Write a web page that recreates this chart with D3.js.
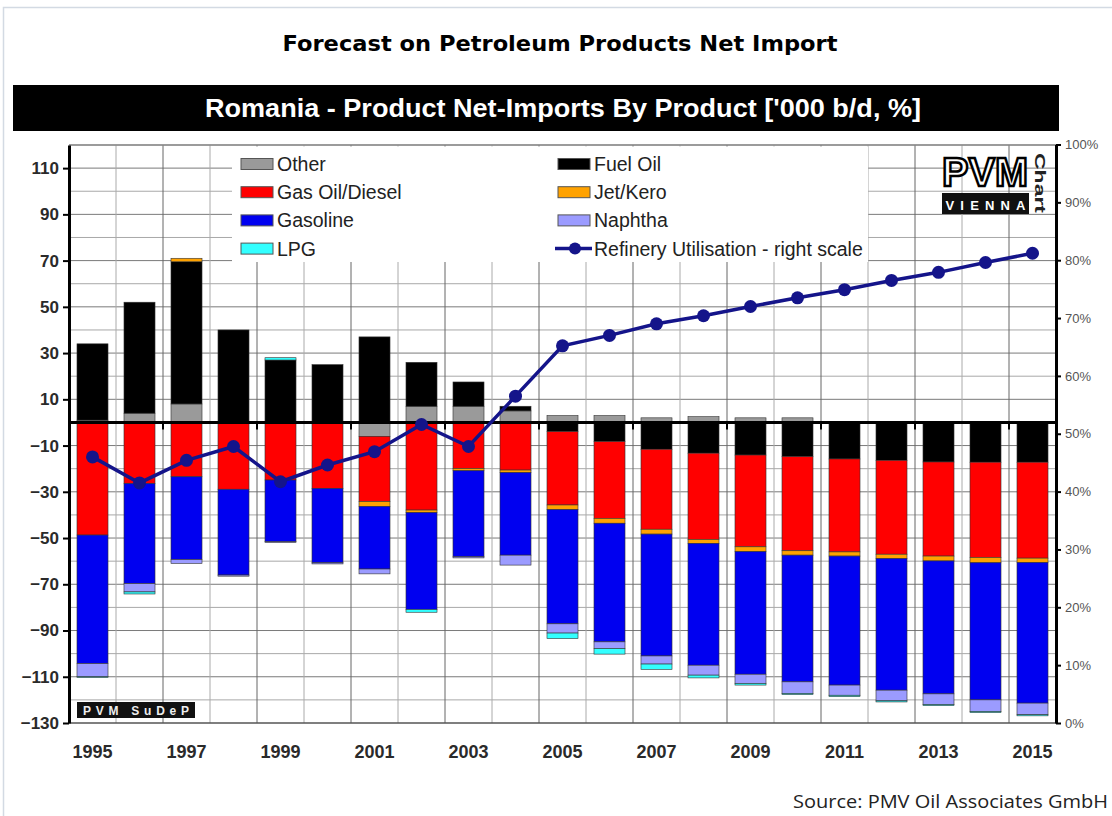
<!DOCTYPE html>
<html>
<head>
<meta charset="utf-8">
<script src="https://cdn.jsdelivr.net/npm/d3@7"></script>
<style>
  body { margin: 0; background: #fff; }
  svg { display: block; }
</style>
</head>
<body>
<script>
// data ('000 b/d, positive = net import, negative = net export)
var years = d3.range(1995, 2016);
var other    = [1, 4, 8, 0, 0, 0, -6, 7, 7, 5, 3, 3, 2, 2.5, 2, 2, 0, 0, 0, 0, 0];
var fuelOil  = [33, 48, 61.5, 40, 27, 25, 37, 19, 10.5, 2, -4, -8.3, -11.6, -13.3, -14.1, -14.8, -15.8, -16.4, -17.1, -17.2, -17.2];
var gasOil   = [-48.7, -26.4, -23.5, -28.9, -24.9, -28.5, -28.2, -37.9, -19.9, -20.6, -31.7, -33.2, -34.6, -37.3, -39.7, -40.7, -40.2, -40.6, -40.7, -41.2, -41.5];
var jetKero  = [0, 0, 1.5, 0, 0, 0, -2.1, -1.1, -1, -1.1, -2, -2.1, -2.1, -1.7, -2.1, -1.9, -1.8, -1.9, -2.1, -2.3, -1.9];
var gasoline = [-55.6, -43.3, -35.8, -37.1, -26.7, -32.2, -27.1, -41.9, -37.2, -35.7, -49.4, -51.3, -52.7, -52.7, -53, -54.8, -55.8, -56.9, -57.5, -59.3, -60.8];
var naphtha  = [-5.7, -3.6, -1.7, -0.5, -0.3, -0.5, -2.1, 0, -0.5, -4.3, -4, -2.9, -3.5, -4.3, -4, -5, -4.4, -4.6, -4.6, -5, -5];
var lpg      = [-0.3, -0.9, 0, 0, 1, 0, 0, -1.2, 0, 0, -2.4, -2.4, -2.3, -1.2, -0.7, -0.5, -0.6, -0.5, -0.5, -0.5, -0.5];
// refinery utilisation, % (right scale)
var utilisation = [46.0, 41.5, 45.4, 47.8, 41.7, 44.6, 46.9, 51.6, 47.8, 56.5, 65.2, 67.0, 69.0, 70.4, 72.0, 73.5, 74.9, 76.5, 77.9, 79.6, 81.2];

var products = ["Other", "Fuel Oil", "Gas Oil/Diesel", "Jet/Kero", "Gasoline", "Naphtha", "LPG"];
var productColors = ["#9a9a9a", "#000000", "#ff0000", "#ffa200", "#0000f0", "#9b9bff", "#33ffff"];
var series = [other, fuelOil, gasOil, jetKero, gasoline, naphtha, lpg];

var leftTicks = [110, 90, 70, 50, 30, 10, -10, -30, -50, -70, -90, -110, -130];
var rightTicks = d3.range(0, 101, 10);
var yearLabels = years.filter(function(d) { return d % 2 === 1; });

var table = years.map(function(yr, i) {
  var row = { year: yr };
  products.forEach(function(p, j) { row[p] = series[j][i]; });
  return row;
});

var svg = d3.select("body").append("svg")
  .attr("width", 1112)
  .attr("height", 816);

svg.append("rect").attr("width", 1112).attr("height", 816).attr("fill", "#fff");

// faint page frame
svg.append("path")
  .attr("d", "M3.5,816 V7.5 H1112")
  .attr("fill", "none")
  .attr("stroke", "#d3dae3")
  .attr("stroke-width", 1.5);

// page title
svg.append("text")
  .attr("x", 560)
  .attr("y", 51)
  .attr("text-anchor", "middle")
  .attr("textLength", 555)
  .attr("lengthAdjust", "spacingAndGlyphs")
  .style("font-family", "'DejaVu Sans', sans-serif")
  .style("font-weight", "bold")
  .style("font-size", "22px")
  .attr("fill", "#000")
  .text("Forecast on Petroleum Products Net Import");

// black title bar
svg.append("rect")
  .attr("x", 13).attr("y", 85)
  .attr("width", 1046).attr("height", 46)
  .attr("fill", "#000");

svg.append("text")
  .attr("x", 563)
  .attr("y", 117)
  .attr("text-anchor", "middle")
  .attr("textLength", 716)
  .attr("lengthAdjust", "spacingAndGlyphs")
  .style("font-family", "'Liberation Sans', Arial, sans-serif")
  .style("font-weight", "bold")
  .style("font-size", "26px")
  .attr("fill", "#fff")
  .text("Romania - Product Net-Imports By Product ['000 b/d, %]");

// scales
var x = d3.scaleBand()
  .domain(years)
  .range([69, 1056])
  .paddingInner(0.34)
  .paddingOuter(0.17);

var y = d3.scaleLinear().domain([-130, 120]).range([723, 145]);
var yR = d3.scaleLinear().domain([0, 100]).range([723, 144.5]);

var step = x.step();
var x0 = 69, x1 = 1056;

// gridlines
var grid = svg.append("g");
d3.range(-120, 121, 10).forEach(function(v) {
  if (v === 0) return;
  grid.append("line")
    .attr("x1", x0).attr("x2", x1)
    .attr("y1", y(v)).attr("y2", y(v))
    .attr("stroke", (v - 10) % 20 === 0 ? "#7a7a7a" : "#a8a8a8")
    .attr("stroke-width", 1);
});
d3.range(1, 21).forEach(function(k) {
  var xx = x0 + k * step;
  grid.append("line")
    .attr("x1", xx).attr("x2", xx)
    .attr("y1", 145).attr("y2", 723)
    .attr("stroke", k % 2 === 0 ? "#666" : "#aaa")
    .attr("stroke-width", 1);
});

// plot top border
svg.append("line")
  .attr("x1", x0).attr("x2", x1)
  .attr("y1", 145).attr("y2", 145)
  .attr("stroke", "#888").attr("stroke-width", 1.5);

// legend background blanks the grid
svg.append("rect")
  .attr("x", 232).attr("y", 146.5)
  .attr("width", 636).attr("height", 115.5)
  .attr("fill", "#fff");

// stacked bars
var stack = d3.stack()
  .keys(products)
  .offset(d3.stackOffsetDiverging);
var layers = stack(table);

svg.append("g").selectAll("g")
  .data(layers)
  .enter().append("g")
  .attr("fill", function(d, i) { return productColors[i]; })
  .selectAll("rect")
  .data(function(d) { return d.filter(function(s) { return s[1] !== s[0]; }); })
  .enter().append("rect")
  .attr("x", function(d) { return x(d.data.year); })
  .attr("y", function(d) { return y(Math.max(d[0], d[1])); })
  .attr("width", x.bandwidth())
  .attr("height", function(d) { return Math.abs(y(d[0]) - y(d[1])); })
  .attr("stroke", "#333")
  .attr("stroke-width", 0.6);

// zero line with small ticks
svg.append("line")
  .attr("x1", x0).attr("x2", x1)
  .attr("y1", y(0)).attr("y2", y(0))
  .attr("stroke", "#000").attr("stroke-width", 3);
d3.range(2, 21, 2).forEach(function(k) {
  svg.append("line")
    .attr("x1", x0 + k * step).attr("x2", x0 + k * step)
    .attr("y1", y(0)).attr("y2", y(0) + 7)
    .attr("stroke", "#000").attr("stroke-width", 2);
});

// bottom line
svg.append("line")
  .attr("x1", x0).attr("x2", x1)
  .attr("y1", 723).attr("y2", 723)
  .attr("stroke", "#555").attr("stroke-width", 1.5);

// left axis
var yAxis = d3.axisLeft(y).tickValues(leftTicks).tickSize(6).tickSizeOuter(0).tickPadding(4);
var gLeft = svg.append("g")
  .attr("transform", "translate(" + x0 + ",0)")
  .call(yAxis);
gLeft.select(".domain").attr("stroke", "#000").attr("stroke-width", 3);
gLeft.selectAll(".tick line").attr("stroke", "#000").attr("stroke-width", 2);
gLeft.selectAll("text")
  .style("font-family", "'Liberation Sans', Arial, sans-serif")
  .style("font-weight", "bold")
  .style("font-size", "17px")
  .attr("fill", "#2a2a2a");

// right axis
var yAxisR = d3.axisRight(yR).tickValues(rightTicks).tickSize(5).tickSizeOuter(0).tickPadding(4)
  .tickFormat(function(d) { return d + "%"; });
var gRight = svg.append("g")
  .attr("transform", "translate(" + x1 + ",0)")
  .call(yAxisR);
gRight.select(".domain").attr("stroke", "#000").attr("stroke-width", 3);
gRight.selectAll(".tick line").attr("stroke", "#000").attr("stroke-width", 2);
gRight.selectAll("text")
  .style("font-family", "'Liberation Sans', Arial, sans-serif")
  .style("font-size", "13px")
  .attr("fill", "#555");

// year labels
var xAxis = d3.axisBottom(x).tickValues(yearLabels).tickSize(0).tickPadding(22);
var gBottom = svg.append("g")
  .attr("transform", "translate(0,723)")
  .call(xAxis);
gBottom.select(".domain").remove();
gBottom.selectAll("text")
  .style("font-family", "'Liberation Sans', Arial, sans-serif")
  .style("font-weight", "bold")
  .style("font-size", "18px")
  .attr("fill", "#2a2a2a");

// refinery utilisation line
var lineColor = "#14148a";
var line = d3.line()
  .x(function(d, i) { return x(years[i]) + x.bandwidth() / 2; })
  .y(function(d) { return yR(d); });

svg.append("path")
  .datum(utilisation)
  .attr("fill", "none")
  .attr("stroke", lineColor)
  .attr("stroke-width", 3.5)
  .attr("d", line);

svg.append("g").selectAll("circle")
  .data(utilisation)
  .enter().append("circle")
  .attr("cx", function(d, i) { return x(years[i]) + x.bandwidth() / 2; })
  .attr("cy", function(d) { return yR(d); })
  .attr("r", 6.5)
  .attr("fill", lineColor);

// legend
var legendItems = [
  { label: "Other", col: 0, row: 0, color: productColors[0] },
  { label: "Gas Oil/Diesel", col: 0, row: 1, color: productColors[2] },
  { label: "Gasoline", col: 0, row: 2, color: productColors[4] },
  { label: "LPG", col: 0, row: 3, color: productColors[6] },
  { label: "Fuel Oil", col: 1, row: 0, color: productColors[1] },
  { label: "Jet/Kero", col: 1, row: 1, color: productColors[3] },
  { label: "Naphtha", col: 1, row: 2, color: productColors[5] },
  { label: "Refinery Utilisation - right scale", col: 1, row: 3, color: null }
];
var legendX = [241, 558], legendY0 = 164, legendDy = 28.2;

var legend = svg.append("g");
legendItems.forEach(function(it) {
  var lx = legendX[it.col], ly = legendY0 + it.row * legendDy;
  if (it.color) {
    legend.append("rect")
      .attr("x", lx).attr("y", ly - 5.5)
      .attr("width", 32).attr("height", 11)
      .attr("fill", it.color)
      .attr("stroke", "#555").attr("stroke-width", 1);
  } else {
    legend.append("line")
      .attr("x1", lx - 3).attr("x2", lx + 34)
      .attr("y1", ly).attr("y2", ly)
      .attr("stroke", lineColor).attr("stroke-width", 3.5);
    legend.append("circle")
      .attr("cx", lx + 17).attr("cy", ly).attr("r", 6)
      .attr("fill", lineColor);
  }
  legend.append("text")
    .attr("x", lx + 36)
    .attr("y", ly + 7)
    .style("font-family", "'Liberation Sans', Arial, sans-serif")
    .style("font-size", "19.5px")
    .attr("fill", "#222")
    .text(it.label);
});

// PVM Vienna logo, top right
var logo = svg.append("g");
logo.append("text")
  .attr("x", 942).attr("y", 186)
  .attr("textLength", 86)
  .attr("lengthAdjust", "spacingAndGlyphs")
  .style("font-family", "'Liberation Sans', Arial, sans-serif")
  .style("font-weight", "bold")
  .style("font-size", "40px")
  .attr("fill", "#fff")
  .attr("stroke", "#000")
  .attr("stroke-width", 2.5)
  .text("PVM");
logo.append("rect")
  .attr("x", 942).attr("y", 193)
  .attr("width", 87).attr("height", 21)
  .attr("fill", "#111");
logo.append("text")
  .attr("x", 985.5).attr("y", 210)
  .attr("text-anchor", "middle")
  .attr("textLength", 80)
  .attr("lengthAdjust", "spacing")
  .style("font-family", "'Liberation Sans', Arial, sans-serif")
  .style("font-weight", "bold")
  .style("font-size", "13px")
  .attr("fill", "#fff")
  .text("VIENNA");
logo.append("text")
  .attr("transform", "translate(1035,153) rotate(90)")
  .attr("textLength", 60)
  .attr("lengthAdjust", "spacingAndGlyphs")
  .style("font-family", "'Liberation Sans', Arial, sans-serif")
  .style("font-weight", "bold")
  .style("font-size", "15px")
  .attr("fill", "#222")
  .text("Chart");

// PVM SuDeP tag, bottom left
svg.append("rect")
  .attr("x", 77).attr("y", 702)
  .attr("width", 118).attr("height", 16)
  .attr("fill", "#111");
svg.append("text")
  .attr("x", 136).attr("y", 715)
  .attr("text-anchor", "middle")
  .attr("textLength", 106)
  .attr("lengthAdjust", "spacing")
  .style("font-family", "'Liberation Sans', Arial, sans-serif")
  .style("font-weight", "bold")
  .style("font-size", "12px")
  .attr("fill", "#eee")
  .text("PVM SuDeP");

// source note
svg.append("text")
  .attr("x", 1108).attr("y", 808)
  .attr("text-anchor", "end")
  .attr("textLength", 315)
  .attr("lengthAdjust", "spacingAndGlyphs")
  .style("font-family", "'Open Sans', 'Noto Sans', sans-serif")
  .style("font-size", "18px")
  .attr("fill", "#222")
  .text("Source: PMV Oil Associates GmbH");
</script>
</body>
</html>
